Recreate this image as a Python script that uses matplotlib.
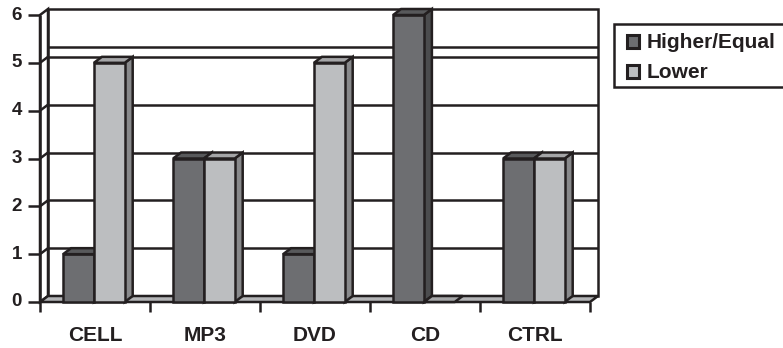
import matplotlib
matplotlib.use("Agg")
import matplotlib.pyplot as plt
from matplotlib.patches import Polygon, Rectangle

# ---- data ----
categories = ["CELL", "MP3", "DVD", "CD", "CTRL"]
series_names = ["Higher/Equal", "Lower"]
higher_equal = [1, 3, 1, 6, 3]
lower = [5, 3, 5, 0, 3]
y_ticks = [0, 1, 2, 3, 4, 5, 6]
ref_level = 5.2

# ---- style ----
INK = "#231f20"
front_cols = ["#6d6e71", "#bcbec0"]
top_cols = ["#58595b", "#a5a6a8"]
side_cols = ["#4b4c4e", "#88898b"]
floor_col = "#b4b5b7"
LW = 1.8
FONT = "Liberation Sans"

W, H = 783, 348
fig = plt.figure(figsize=(W / 100, H / 100), dpi=100)
fig.patch.set_facecolor("white")

# plotting area of the front plane, in pixels
left_px, right_px, top_px, base_px = 40, 590, 15, 302
ax = fig.add_axes([left_px / W, (H - base_px) / H,
                   (right_px - left_px) / W, (base_px - top_px) / H])
n = len(categories)
ymax = max(y_ticks)
ax.set_xlim(0, n)
ax.set_ylim(0, ymax)
ax.axis("off")

px_x = n / (right_px - left_px)      # data units per pixel, x
px_y = ymax / (base_px - top_px)     # data units per pixel, y
DX, DY = 8 * px_x, 6 * px_y          # depth offset of the 3-D box


def poly(pts, fc, z, lw=LW):
    ax.add_patch(Polygon(pts, closed=True, facecolor=fc, edgecolor=INK,
                         linewidth=lw, joinstyle="miter", clip_on=False, zorder=z))


def line(xs, ys, z=2, lw=LW):
    ax.plot(xs, ys, color=INK, linewidth=lw, solid_capstyle="butt",
            clip_on=False, zorder=z)


# back wall and side wall
poly([(DX, DY), (n + DX, DY), (n + DX, ymax + DY), (DX, ymax + DY)], "white", 1)
poly([(0, 0), (DX, DY), (DX, ymax + DY), (0, ymax)], "white", 1)

# gridlines on back and side walls
for v in y_ticks[1:-1]:
    line([DX, n + DX], [v + DY, v + DY])
    line([0, DX], [v, v + DY])
line([DX, n + DX], [ref_level + DY, ref_level + DY])

# floor
poly([(0, 0), (n, 0), (n + DX, DY), (DX, DY)], floor_col, 3)

# front value axis with ticks
line([0, 0], [0, ymax], z=3)
for v in y_ticks:
    line([-12 * px_x, 0], [v, v], z=3)
    ax.text(-18 * px_x, v, str(v), ha="right", va="center", fontsize=13.5,
            fontweight="bold", family=FONT, color=INK, clip_on=False)

# category ticks and labels
for i in range(n + 1):
    line([i, i], [0, -10 * px_y], z=3)
for i, c in enumerate(categories):
    ax.text(i + 0.5, -39 * px_y, c, ha="center", va="baseline", fontsize=15,
            fontweight="bold", family=FONT, color=INK, clip_on=False)

# 3-D columns
bar_w = 0.28
values = [higher_equal, lower]
z = 10
for i in range(n):
    for j, vals in enumerate(values):
        h = vals[i]
        x0 = i + 0.49 - bar_w + j * bar_w
        x1 = x0 + bar_w
        if h > 0:
            poly([(x1, 0), (x1 + DX, DY), (x1 + DX, h + DY), (x1, h)], side_cols[j], z)
            poly([(x0, 0), (x1, 0), (x1, h), (x0, h)], front_cols[j], z + 1)
        poly([(x0, h), (x1, h), (x1 + DX, h + DY), (x0 + DX, h + DY)], top_cols[j], z + 1)
        z += 2

# legend box (runs off the right edge)
fig.add_artist(Rectangle((614 / W, (H - 87) / H), 200 / W, 63 / H,
                         transform=fig.transFigure, facecolor="white",
                         edgecolor=INK, linewidth=LW, clip_on=False))
for k, name in enumerate(series_names):
    top = 35 + 30 * k
    fig.add_artist(Rectangle((627 / W, (H - top - 13) / H), 12 / W, 13 / H,
                             transform=fig.transFigure, facecolor=front_cols[k],
                             edgecolor=INK, linewidth=LW + 0.4))
    fig.text(647 / W, (H - (48 + 30 * k)) / H, name, ha="left", va="baseline",
             fontsize=15, fontweight="bold", family=FONT, color=INK)

fig.savefig("out.png", dpi=100, facecolor="white")
